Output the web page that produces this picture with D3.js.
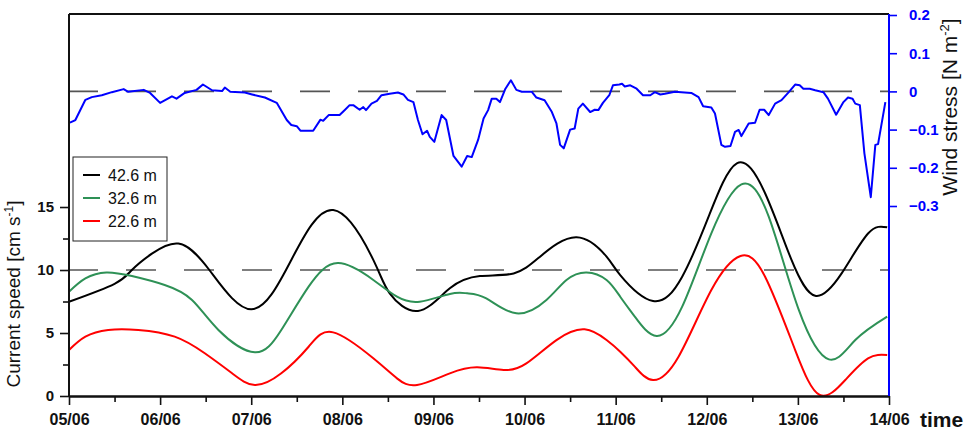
<!DOCTYPE html>
<html>
<head>
<meta charset="utf-8">
<script src="https://cdn.jsdelivr.net/npm/d3@7"></script>
<style>
  body { margin: 0; background: #fff; }
  svg { display: block; font-family: "Liberation Sans", Arial, sans-serif; }
</style>
</head>
<body>
<div id="wrapper"></div>
<script>
// data: days since 05/06 00:00
const dayLabels = ["05/06", "06/06", "07/06", "08/06", "09/06", "10/06", "11/06", "12/06", "13/06", "14/06"];
const speedTicks = [0, 5, 10, 15];
const stressTicks = [0.2, 0.1, 0, -0.1, -0.2, -0.3];

const days426 = [0, 0.5, 0.69, 0.91, 1.2, 1.53, 2.0, 2.44, 2.9, 3.34, 3.52, 3.83, 4.18, 4.51, 4.88, 5.17, 5.57, 5.9, 6.05, 6.41, 6.73, 7.02, 7.33, 7.64, 7.93, 8.19, 8.48, 8.77, 8.98];
const speed426 = [7.48, 8.9, 10.0, 11.3, 12.1, 10.1, 6.88, 10.8, 14.76, 10.8, 8.15, 6.75, 8.55, 9.52, 9.73, 11.06, 12.6, 11.06, 9.6, 7.54, 9.47, 14.23, 18.47, 16.09, 10.8, 7.96, 9.73, 12.9, 13.39];

const days326 = [0, 0.18, 0.41, 0.69, 1.05, 1.35, 1.64, 2.04, 2.33, 2.63, 2.95, 3.34, 3.6, 3.85, 4.18, 4.37, 4.58, 4.91, 5.24, 5.46, 5.68, 5.9, 6.05, 6.21, 6.45, 6.73, 7.05, 7.38, 7.68, 8.01, 8.34, 8.63, 8.98];
const speed326 = [8.28, 9.34, 9.81, 9.52, 8.81, 7.62, 5.24, 3.47, 5.24, 8.68, 10.55, 9.21, 7.88, 7.49, 8.1, 8.15, 7.75, 6.56, 7.62, 9.21, 9.81, 9.21, 7.88, 6.3, 4.76, 7.09, 12.91, 16.8, 14.23, 6.83, 2.91, 4.44, 6.3];

const days226 = [0, 0.18, 0.43, 0.76, 1.16, 1.49, 1.79, 2.04, 2.33, 2.63, 2.9, 3.34, 3.6, 3.82, 4.18, 4.48, 4.77, 5.02, 5.35, 5.66, 5.9, 6.05, 6.21, 6.41, 6.69, 7.05, 7.37, 7.64, 7.97, 8.24, 8.52, 8.77, 8.98];
const speed226 = [3.65, 4.71, 5.24, 5.24, 4.71, 3.39, 1.8, 0.87, 1.8, 3.91, 5.05, 2.99, 1.4, 0.87, 1.8, 2.28, 2.06, 2.59, 4.44, 5.29, 4.44, 3.52, 2.33, 1.27, 3.12, 8.41, 11.11, 9.47, 3.65, 0.08, 1.27, 2.99, 3.25];

const windDays = [0.01, 0.07, 0.18, 0.25, 0.36, 0.47, 0.60, 0.65, 0.82, 0.89, 1.00, 1.13, 1.18, 1.27, 1.40, 1.47, 1.57, 1.68, 1.71, 1.77, 1.93, 2.01, 2.15, 2.28, 2.39, 2.44, 2.50, 2.54, 2.68, 2.76, 2.79, 2.85, 2.97, 3.03, 3.08, 3.12, 3.19, 3.23, 3.26, 3.32, 3.38, 3.43, 3.52, 3.61, 3.67, 3.72, 3.78, 3.83, 3.88, 3.93, 3.96, 4.01, 4.09, 4.14, 4.22, 4.31, 4.37, 4.42, 4.49, 4.55, 4.60, 4.64, 4.69, 4.73, 4.79, 4.85, 4.91, 4.97, 5.08, 5.13, 5.22, 5.30, 5.35, 5.39, 5.43, 5.50, 5.55, 5.59, 5.64, 5.72, 5.77, 5.81, 5.86, 5.93, 5.97, 6.04, 6.07, 6.10, 6.16, 6.23, 6.30, 6.38, 6.43, 6.49, 6.54, 6.65, 6.83, 6.91, 6.96, 7.05, 7.09, 7.16, 7.20, 7.26, 7.31, 7.35, 7.38, 7.46, 7.53, 7.58, 7.63, 7.68, 7.75, 7.82, 7.90, 7.97, 8.02, 8.06, 8.13, 8.19, 8.28, 8.33, 8.42, 8.50, 8.55, 8.60, 8.63, 8.68, 8.73, 8.80, 8.85, 8.88, 8.96];
const windStress = [-0.082, -0.075, -0.022, -0.015, -0.010, -0.002, 0.006, -0.001, 0.004, -0.004, -0.030, -0.013, -0.019, -0.004, 0.004, 0.018, 0.003, 0.001, 0.010, -0.001, -0.003, -0.008, -0.016, -0.030, -0.075, -0.088, -0.091, -0.103, -0.103, -0.074, -0.077, -0.062, -0.062, -0.048, -0.036, -0.036, -0.048, -0.041, -0.049, -0.032, -0.025, -0.010, -0.006, -0.003, -0.008, -0.022, -0.028, -0.075, -0.112, -0.103, -0.119, -0.132, -0.062, -0.075, -0.169, -0.197, -0.169, -0.172, -0.127, -0.071, -0.049, -0.019, -0.019, -0.028, 0.007, 0.029, 0.004, -0.001, -0.001, -0.016, -0.023, -0.054, -0.084, -0.140, -0.149, -0.100, -0.097, -0.045, -0.032, -0.054, -0.048, -0.049, -0.030, -0.010, 0.016, 0.018, 0.020, 0.013, 0.016, 0.007, -0.010, -0.010, -0.002, -0.008, -0.006, -0.001, -0.004, -0.015, -0.039, -0.042, -0.058, -0.140, -0.145, -0.143, -0.106, -0.101, -0.117, -0.084, -0.082, -0.048, -0.048, -0.062, -0.032, -0.023, -0.002, 0.018, 0.016, 0.007, 0.007, 0.003, -0.002, -0.019, -0.061, -0.028, -0.016, -0.019, -0.032, -0.036, -0.162, -0.277, -0.140, -0.138, -0.028];

const series = [
  { name: "42.6 m", color: "#000000", days: days426, values: speed426 },
  { name: "32.6 m", color: "#2e9156", days: days326, values: speed326 },
  { name: "22.6 m", color: "#ff0000", days: days226, values: speed226 },
];

// dimensions
const dimensions = {
  width: 966,
  height: 431,
  margin: { top: 14, right: 77, bottom: 35, left: 69 },
};
dimensions.boundedWidth = dimensions.width - dimensions.margin.left - dimensions.margin.right;
dimensions.boundedHeight = dimensions.height - dimensions.margin.top - dimensions.margin.bottom;

const svg = d3.select("#wrapper").append("svg")
  .attr("width", dimensions.width)
  .attr("height", dimensions.height);
const bounds = svg.append("g")
  .attr("transform", `translate(${dimensions.margin.left},${dimensions.margin.top})`);

// scales
const xScale = d3.scaleLinear().domain([0, 9]).range([0, dimensions.boundedWidth]);
const yScale = d3.scaleLinear().domain([0, 30.32]).range([dimensions.boundedHeight, 0]);
const windScale = d3.scaleLinear().domain([-0.3, 0.2]).range([192, 1]);

// reference dashed lines
const dashStyle = sel => sel
  .attr("x1", -1).attr("x2", dimensions.boundedWidth)
  .attr("stroke", "#555").attr("stroke-width", 1.6)
  .attr("stroke-dasharray", "30 28");
bounds.append("line").call(dashStyle)
  .attr("y1", windScale(0)).attr("y2", windScale(0));
bounds.append("line").call(dashStyle)
  .attr("y1", yScale(10)).attr("y2", yScale(10));

// wind stress line
const windData = windDays.map((d, i) => ({ day: d, value: windStress[i] }));
bounds.append("path")
  .datum(windData)
  .attr("fill", "none")
  .attr("stroke", "#0000ff")
  .attr("stroke-width", 2)
  .attr("stroke-linejoin", "round")
  .attr("d", d3.line().x(d => xScale(d.day)).y(d => windScale(d.value)));

// current speed lines
const speedLine = d3.line()
  .x(d => xScale(d.day))
  .y(d => yScale(d.value))
  .curve(d3.curveNatural);
series.forEach(s => {
  bounds.append("path")
    .datum(s.days.map((d, i) => ({ day: d, value: s.values[i] })))
    .attr("fill", "none")
    .attr("stroke", s.color)
    .attr("stroke-width", 2)
    .attr("d", speedLine);
});

// axes
const styleAxis = (g, color) => {
  g.select(".domain").attr("stroke", color).attr("stroke-width", 2);
  g.selectAll(".tick line").attr("stroke", color).attr("stroke-width", 1.6);
  g.selectAll("text").attr("fill", color).style("font-weight", "bold");
};

// top frame
bounds.append("line")
  .attr("x1", 0).attr("x2", dimensions.boundedWidth)
  .attr("y1", 0).attr("y2", 0)
  .attr("stroke", "#111").attr("stroke-width", 2);

const xAxis = bounds.append("g")
  .attr("transform", `translate(0,${dimensions.boundedHeight})`)
  .call(d3.axisBottom(xScale)
    .tickValues(d3.range(0, 10))
    .tickFormat(d => dayLabels[d])
    .tickSize(9).tickSizeOuter(0).tickPadding(9))
  .call(g => styleAxis(g, "#111"))
  .call(g => g.selectAll("text").style("font-size", "16px"));
bounds.append("g")
  .attr("transform", `translate(0,${dimensions.boundedHeight})`)
  .call(d3.axisBottom(xScale)
    .tickValues(d3.range(0.5, 9, 1))
    .tickFormat("")
    .tickSize(6).tickSizeOuter(0))
  .call(g => styleAxis(g, "#111"));

bounds.append("text")
  .attr("x", 851)
  .attr("y", 413)
  .attr("font-size", "21px")
  .attr("font-weight", "bold")
  .attr("fill", "#111")
  .text("time");

const yAxis = bounds.append("g")
  .call(d3.axisLeft(yScale)
    .tickValues(speedTicks)
    .tickSize(9).tickSizeOuter(0).tickPadding(6))
  .call(g => styleAxis(g, "#111"))
  .call(g => g.selectAll("text").style("font-size", "15px"));
yAxis.select(".domain").attr("d", `M0,${dimensions.boundedHeight}V0`);
bounds.append("g")
  .call(d3.axisLeft(yScale)
    .tickValues([2.5, 7.5, 12.5])
    .tickFormat("")
    .tickSize(6).tickSizeOuter(0))
  .call(g => styleAxis(g, "#111"))
  .call(g => g.select(".domain").remove());

bounds.append("text")
  .attr("transform", `translate(${-49},${280}) rotate(-90)`)
  .attr("text-anchor", "middle")
  .attr("font-size", "19px")
  .attr("fill", "#111")
  .call(t => {
    t.append("tspan").text("Current speed [cm s");
    t.append("tspan").attr("font-size", "12px").attr("dy", "-7").text("-1");
    t.append("tspan").attr("dy", "7").text("]");
  });

const windAxis = bounds.append("g")
  .attr("transform", `translate(${dimensions.boundedWidth},0)`)
  .call(d3.axisRight(windScale)
    .tickValues(stressTicks)
    .tickFormat(d3.format(".1~f"))
    .tickSize(8).tickSizeOuter(0).tickPadding(12))
  .call(g => styleAxis(g, "#0000ff"))
  .call(g => g.selectAll("text").style("font-size", "15px"));
windAxis.select(".domain").attr("d", `M0,0V${dimensions.boundedHeight}`);

bounds.append("text")
  .attr("transform", `translate(${dimensions.boundedWidth + 68},${93}) rotate(-90)`)
  .attr("text-anchor", "middle")
  .attr("font-size", "21px")
  .attr("fill", "#111")
  .call(t => {
    t.append("tspan").text("Wind stress [N m");
    t.append("tspan").attr("font-size", "13px").attr("dy", "-8").text("-2");
    t.append("tspan").attr("dy", "8").text("]");
  });

// legend
const legend = bounds.append("g").attr("transform", "translate(4,143)");
legend.append("rect")
  .attr("width", 94).attr("height", 84)
  .attr("fill", "#fff")
  .attr("stroke", "#222").attr("stroke-width", 1);
series.forEach((s, i) => {
  const row = legend.append("g").attr("transform", `translate(0,${18 + i * 23})`);
  row.append("line")
    .attr("x1", 10).attr("x2", 27)
    .attr("stroke", s.color).attr("stroke-width", 2);
  row.append("text")
    .attr("x", 35).attr("y", 0).attr("dy", "0.35em")
    .attr("font-size", "16px")
    .attr("fill", "#111")
    .text(s.name);
});
</script>
</body>
</html>
